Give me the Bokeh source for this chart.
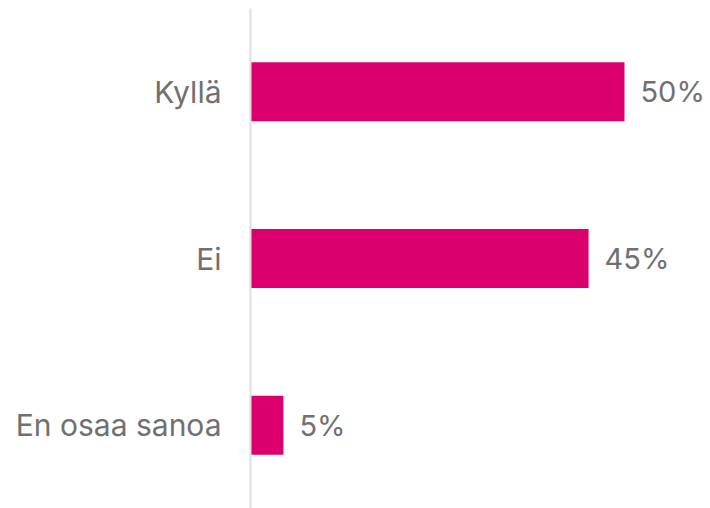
from bokeh.plotting import figure
from bokeh.models import ColumnDataSource, Range1d
from bokeh.core.properties import value
from bokeh.embed import file_html
from bokeh.resources import INLINE

categories = ["Kyllä", "Ei", "En osaa sanoa"]
values = [50.0, 45.2, 4.4]
value_labels = ["50%", "45%", "5%"]

BAR = "#DB006E"
TEXT = "#707070"
FONT = "Inter"

src = ColumnDataSource(dict(cat=categories, val=values, lab=value_labels))

p = figure(width=710, height=508, output_backend="svg", toolbar_location=None,
           y_range=list(reversed(categories)), x_range=Range1d(0, 61.5),
           min_border_left=250, min_border_right=0, min_border_top=8, min_border_bottom=0)

p.hbar(y="cat", right="val", left=0, height=0.354, source=src, color=BAR, line_color=None)
p.text(x="val", y="cat", text="lab", source=src, x_offset=16,
       text_baseline="middle", text_align="left", text_color=TEXT,
       text_font=value(FONT), text_font_size="29px")

p.xaxis.visible = False
p.xgrid.grid_line_color = None
p.ygrid.grid_line_color = None
p.outline_line_color = None
p.yaxis.axis_line_color = "#dedede"
p.yaxis.axis_line_width = 2
p.yaxis.major_tick_line_color = None
p.yaxis.minor_tick_line_color = None
p.yaxis.major_label_standoff = 23
p.yaxis.major_label_text_font = FONT
p.yaxis.major_label_text_font_size = "30px"
p.yaxis.major_label_text_color = TEXT
p.yaxis.major_label_text_font_style = "normal"

open("out.html", "w").write(file_html(p, INLINE))
